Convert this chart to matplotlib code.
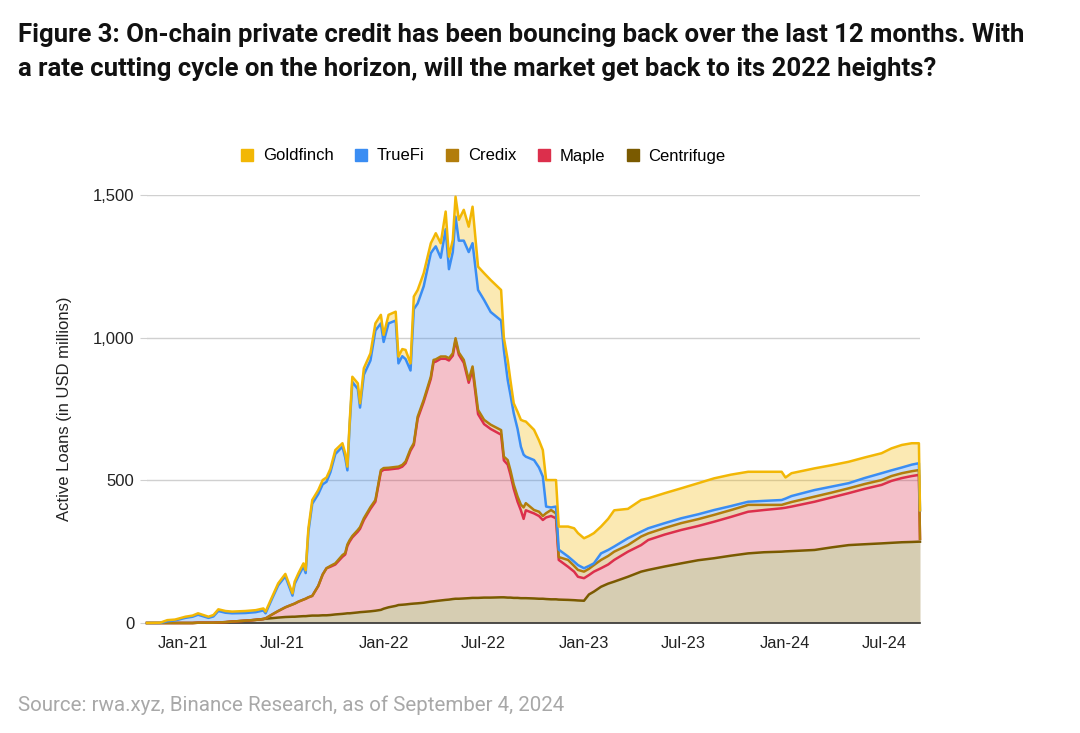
import pandas as pd
import matplotlib.pyplot as plt
import matplotlib.dates as mdates
from matplotlib.lines import Line2D

# values (USD millions, per protocol, stacked bottom -> top)
dates = ["2020-10-27", "2020-11-20", "2020-12-03", "2020-12-17", "2021-01-05", "2021-01-18",
         "2021-01-28", "2021-02-16", "2021-02-25", "2021-03-06", "2021-03-19", "2021-03-31",
         "2021-04-24", "2021-05-13", "2021-05-27", "2021-05-31", "2021-06-12", "2021-06-23",
         "2021-07-06", "2021-07-19", "2021-07-23", "2021-07-30", "2021-08-08", "2021-08-12",
         "2021-08-17", "2021-08-24", "2021-09-04", "2021-09-12", "2021-09-19", "2021-09-26",
         "2021-10-05", "2021-10-18", "2021-10-23", "2021-10-27", "2021-10-31", "2021-11-05",
         "2021-11-15", "2021-11-19", "2021-11-26", "2021-12-08", "2021-12-17", "2021-12-27",
         "2022-01-01", "2022-01-10", "2022-01-23", "2022-01-28", "2022-02-04", "2022-02-10",
         "2022-02-19", "2022-02-25", "2022-03-04", "2022-03-15", "2022-03-28", "2022-04-02",
         "2022-04-06", "2022-04-15", "2022-04-24", "2022-04-30", "2022-05-07", "2022-05-12",
         "2022-05-18", "2022-05-27", "2022-06-05", "2022-06-12", "2022-06-22", "2022-07-03",
         "2022-07-15", "2022-08-03", "2022-08-08", "2022-08-15", "2022-08-20", "2022-08-26",
         "2022-09-02", "2022-09-08", "2022-09-13", "2022-09-17", "2022-10-02", "2022-10-11",
         "2022-10-18", "2022-10-24", "2022-11-02", "2022-11-11", "2022-11-16", "2022-12-03",
         "2022-12-14", "2022-12-21", "2023-01-01", "2023-01-10", "2023-01-19", "2023-02-01",
         "2023-02-14", "2023-02-25", "2023-03-22", "2023-04-15", "2023-04-28", "2023-05-28",
         "2023-06-27", "2023-07-28", "2023-08-26", "2023-09-26", "2023-10-27", "2023-11-25",
         "2023-12-27", "2024-01-03", "2024-01-14", "2024-02-25", "2024-03-27", "2024-04-27",
         "2024-05-26", "2024-06-26", "2024-07-14", "2024-08-02", "2024-08-20", "2024-09-02",
         "2024-09-04"]

centrifuge = [0, 0, 0, 0, 0, 0, 1, 1, 1, 2, 3, 5, 8, 11, 14, 15, 17, 19, 21, 22, 22, 23, 24, 24,
              25, 26, 26, 27, 27, 28, 30, 32, 33, 34, 34, 35, 37, 38, 39, 41, 43, 46, 50, 55, 60,
              63, 64, 65, 67, 68, 69, 71, 75, 76, 77, 79, 81, 82, 84, 85, 85, 86, 87, 88, 88, 89,
              89, 90, 90, 89, 89, 88, 88, 87, 87, 87, 86, 85, 85, 84, 83, 83, 82, 81, 80, 79, 78,
              100, 110, 127, 138, 145, 162, 180, 186, 198, 209, 220, 227, 236, 244, 248, 250, 251,
              252, 256, 265, 273, 276, 279, 281, 283, 284, 285, 285]

maple = [0, 0, 0, 0, 0, 0, 0, 0, 0, 0, 0, 0, 0, 0, 0, 1, 13, 23, 34, 43, 46, 52, 58, 61, 65, 69,
         104, 143, 165, 169, 175, 200, 207, 236, 251, 265, 283, 292, 322, 359, 382, 484, 487, 483,
         481, 479, 484, 495, 537, 556, 647, 704, 781, 838, 839, 847, 845, 838, 853, 905, 855, 826,
         755, 799, 644, 608, 591, 570, 480, 466, 431, 382, 337, 308, 278, 308, 298, 290, 276, 286,
         292, 284, 139, 116, 100, 83, 79, 68, 70, 65, 67, 76, 88, 93, 105, 112, 117, 120, 128, 136,
         146, 148, 152, 153, 156, 169, 175, 182, 194, 205, 217, 225, 231, 234, 10]

credix = [0, 0, 0, 0, 0, 0, 0, 0, 0, 0, 0, 0, 0, 0, 0, 0, 0, 0, 0, 0, 0, 0, 0, 0, 0, 0, 0, 0, 0,
          3, 4, 6, 5, 5, 5, 5, 6, 6, 6, 6, 6, 6, 6, 6, 6, 6, 6, 6, 6, 6, 7, 7, 7, 8, 8, 8, 8, 8, 8,
          8, 8, 10, 10, 12, 15, 15, 15, 16, 13, 16, 15, 15, 18, 20, 40, 25, 12, 15, 14, 15, 21, 17,
          10, 24, 20, 24, 23, 22, 23, 29, 30, 29, 23, 30, 23, 23, 24, 24, 24, 24, 24, 18, 12, 14,
          16, 18, 17, 17, 17, 17, 17, 17, 17, 17, 0]

truefi = [0, 0, 6, 9, 18, 22, 28, 17, 22, 40, 33, 29, 27, 27, 30, 18, 56, 90, 109, 31, 69, 90,
          116, 90, 230, 323, 322, 316, 303, 328, 383, 380, 335, 260, 398, 540, 494, 419, 503, 514,
          594, 514, 442, 506, 513, 362, 381, 359, 275, 470, 397, 398, 433, 388, 396, 346, 446, 312,
          355, 426, 392, 418, 448, 432, 420, 420, 395, 384, 374, 281, 265, 250, 237, 203, 185, 163,
          175, 155, 138, 23, 9, 24, 26, 12, 15, 17, 12, 10, 6, 23, 21, 18, 24, 17, 18, 17, 17, 17,
          17, 14, 11, 14, 17, 18, 21, 23, 21, 18, 21, 24, 20, 20, 23, 24, 100]

goldfinch = [0, 1, 4, 3, 4, 4, 5, 4, 5, 6, 6, 6, 7, 7, 7, 6, 6, 7, 8, 8, 8, 10, 11, 10, 12, 13,
             14, 15, 15, 12, 14, 12, 15, 13, 12, 18, 20, 15, 23, 25, 25, 30, 25, 30, 31, 24, 25, 32,
             25, 44, 47, 46, 35, 40, 46, 51, 62, 44, 43, 70, 73, 108, 89, 128, 82, 94, 112, 107, 43,
             70, 50, 35, 60, 94, 118, 123, 106, 95, 93, 93, 96, 93, 81, 105, 117, 112, 105, 105, 106,
             94, 109, 127, 103, 111, 105, 105, 105, 109, 111, 110, 105, 102, 99, 74, 80, 76, 75, 75,
             72, 70, 77, 79, 75, 70, 0]

series = ["Centrifuge", "Maple", "Credix", "TrueFi", "Goldfinch"]
colors = {"Goldfinch": "#F2B705", "TrueFi": "#3A8DF3", "Credix": "#B27D0C",
          "Maple": "#DC2F4C", "Centrifuge": "#7A5A00"}

df = pd.DataFrame({"date": pd.to_datetime(dates), "Centrifuge": centrifuge, "Maple": maple,
                   "Credix": credix, "TrueFi": truefi, "Goldfinch": goldfinch})

fig = plt.figure(figsize=(10.8, 7.33), dpi=100)
ax = fig.add_axes([147 / 1080, 110 / 733, (920 - 147) / 1080, (623 - 195) / 733])

# stacked areas
lower = pd.Series(0.0, index=df.index)
for name in series:
    upper = lower + df[name]
    ax.fill_between(df["date"], lower, upper, color=colors[name], alpha=0.3, linewidth=0)
    ax.plot(df["date"], upper, color=colors[name], linewidth=1.8, clip_on=False, zorder=3)
    lower = upper

ax.set_xlim(pd.Timestamp("2020-10-27"), pd.Timestamp("2024-09-04"))
ax.set_ylim(0, 1500)
ax.set_yticks([0, 500, 1000, 1500])
ax.set_yticklabels(["0", "500", "1,000", "1,500"])
ax.xaxis.set_major_locator(mdates.MonthLocator(bymonth=[1, 7]))
ax.xaxis.set_major_formatter(mdates.DateFormatter("%b-%y"))

ax.grid(axis="y", color="#D0D0D0", linewidth=1)
ax.set_axisbelow(True)
for s in ["top", "right", "left"]:
    ax.spines[s].set_visible(False)
ax.spines["bottom"].set_color("#333333")
ax.spines["bottom"].set_linewidth(1.2)
ax.tick_params(axis="x", length=0, pad=9, labelsize=11.8, labelcolor="#222222")
ax.tick_params(axis="y", length=5, color="#D0D0D0", pad=4, labelsize=12, labelcolor="#222222")
for lab in ax.get_xticklabels() + ax.get_yticklabels():
    lab.set_family("Liberation Sans")

ax.set_ylabel("Active Loans (in USD millions)", fontsize=12, family="Liberation Sans",
              color="#222222", labelpad=15)

# legend on top
order = ["Goldfinch", "TrueFi", "Credix", "Maple", "Centrifuge"]
handles = [Line2D([], [], marker="s", linestyle="none", markersize=9, color=colors[n]) for n in order]
fig.legend(handles, order, loc="center", bbox_to_anchor=(483 / 1080, 1 - 156 / 733), ncol=5,
           frameon=False, prop={"family": "Liberation Sans", "size": 12},
           handlelength=0.8, handletextpad=0.55, columnspacing=1.25)

fig.text(18 / 1080, 1 - 52 / 733,
         "Figure 3: On-chain private credit has been bouncing back over the last 12 months. With\n"
         "a rate cutting cycle on the horizon, will the market get back to its 2022 heights?",
         fontsize=18.5, fontweight="bold", family="Roboto", va="center", ha="left",
         linespacing=1.55, color="#111111")
fig.text(18 / 1080, 1 - 705 / 733, "Source: rwa.xyz, Binance Research, as of September 4, 2024",
         fontsize=14.8, family="Roboto", color="#A8A8A8", va="center", ha="left")

fig.savefig("out.png", dpi=100)
